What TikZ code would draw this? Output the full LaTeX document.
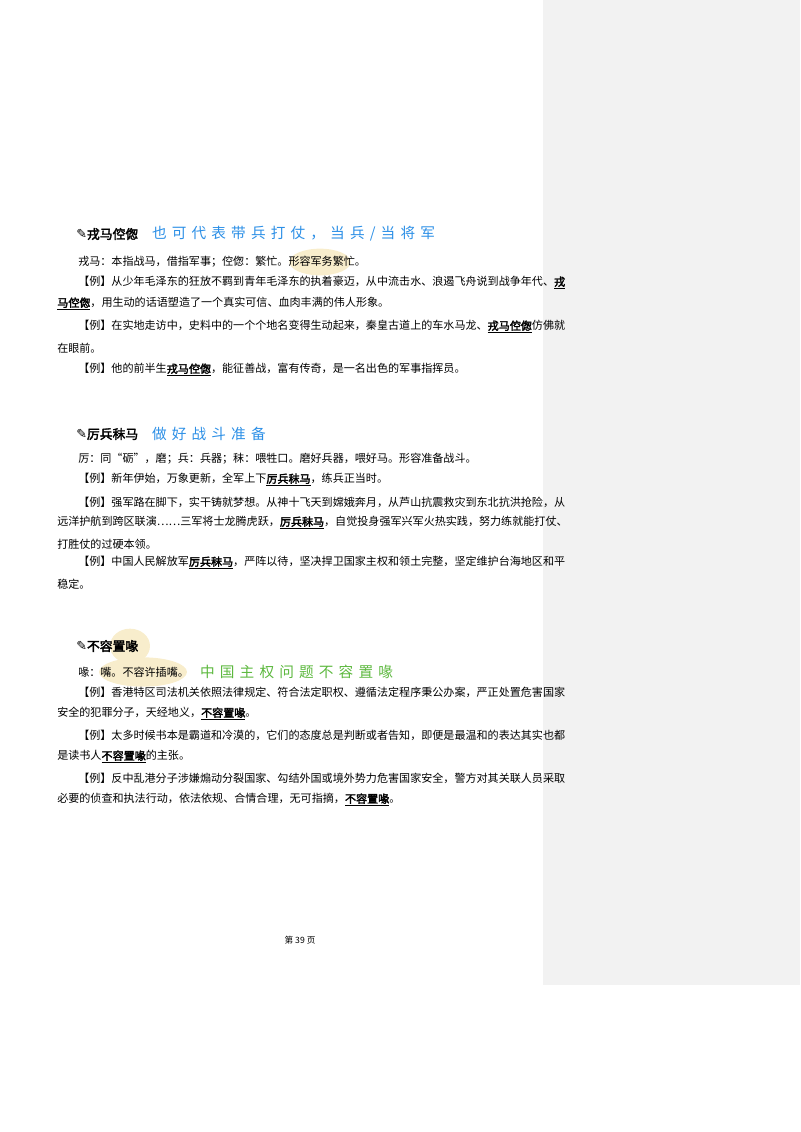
\documentclass[tikz,border=0pt]{standalone}
\usepackage{fontspec}
\setmainfont{Noto Sans CJK SC}[AutoFakeBold=2.5]
\newfontfamily\pencilfont{DejaVu Sans}
\usetikzlibrary{shapes.geometric, positioning}
\definecolor{panelgray}{HTML}{F2F2F2}
\definecolor{hlyellow}{HTML}{F8EDCC}
\definecolor{noteblue}{HTML}{2C8FE6}
\definecolor{notegreen}{HTML}{5CB83E}
\tikzstyle{body} = [anchor=west, inner sep=0pt, font=\fontsize{8.3}{10}\selectfont]
\tikzstyle{head} = [anchor=west, inner sep=0pt, font=\fontsize{9.6}{12}\selectfont\bfseries]
\tikzstyle{note} = [anchor=west, inner sep=0pt, font=\fontsize{11}{13}\selectfont\addfontfeatures{LetterSpace=35}]
\tikzstyle{hl} = [ellipse, fill=hlyellow, draw=none, inner sep=0pt]
\newcommand{\term}[1]{\underline{\textbf{#1}}}
\newcommand{\pen}{{\pencilfont ✎}}

\begin{document}
\begin{tikzpicture}[x=0.75pt, y=-0.75pt]
\useasboundingbox (0,0) rectangle (800,1132);
\fill[panelgray] (543,0) rectangle (800,985);

% highlights
\node (hla) [hl, minimum width=46, minimum height=20] at (320,262) {};
\node (hlb) [hl, minimum width=30, minimum height=26] at (130,646) {};
\node (hlc) [hl, minimum width=66, minimum height=22] at (143,672) {};

% first entry
\node (h1) [head] at (76,234) {\pen 戎马倥偬};
\node (n1) [note, text=noteblue, right=10pt of h1] {也可代表带兵打仗，当兵/当将军};
\node (d1) [body] at (78,262) {戎马：本指战马，借指军事；倥偬：繁忙。形容军务繁忙。};
\node (e1a) [body] at (78,283) {【例】从少年毛泽东的狂放不羁到青年毛泽东的执着豪迈，从中流击水、浪遏飞舟说到战争年代、\term{戎}};
\node (e1b) [body] at (57,304) {\term{马倥偬}，用生动的话语塑造了一个真实可信、血肉丰满的伟人形象。};
\node (e2a) [body] at (78,327) {【例】在实地走访中，史料中的一个个地名变得生动起来，秦皇古道上的车水马龙、\term{戎马倥偬}仿佛就};
\node (e2b) [body] at (57,348) {在眼前。};
\node (e3a) [body] at (78,370) {【例】他的前半生\term{戎马倥偬}，能征善战，富有传奇，是一名出色的军事指挥员。};

% second entry
\node (h2) [head] at (76,434) {\pen 厉兵秣马};
\node (n2) [note, text=noteblue, right=10pt of h2] {做好战斗准备};
\node (d2) [body] at (78,459) {厉：同“砺”，磨；兵：兵器；秣：喂牲口。磨好兵器，喂好马。形容准备战斗。};
\node (e4a) [body] at (78,480) {【例】新年伊始，万象更新，全军上下\term{厉兵秣马}，练兵正当时。};
\node (e5a) [body] at (78,502) {【例】强军路在脚下，实干铸就梦想。从神十飞天到嫦娥奔月，从芦山抗震救灾到东北抗洪抢险，从};
\node (e5b) [body] at (57,523) {远洋护航到跨区联演……三军将士龙腾虎跃，\term{厉兵秣马}，自觉投身强军兴军火热实践，努力练就能打仗、};
\node (e5c) [body] at (57,544) {打胜仗的过硬本领。};
\node (e6a) [body] at (78,563) {【例】中国人民解放军\term{厉兵秣马}，严阵以待，坚决捍卫国家主权和领土完整，坚定维护台海地区和平};
\node (e6b) [body] at (57,584) {稳定。};

% third entry
\node (h3) [head] at (76,646) {\pen 不容置喙};
\node (d3) [body] at (78,672) {喙：嘴。不容许插嘴。};
\node (n3) [note, text=notegreen, right=8pt of d3] {中国主权问题不容置喙};
\node (e7a) [body] at (78,692) {【例】香港特区司法机关依照法律规定、符合法定职权、遵循法定程序秉公办案，严正处置危害国家};
\node (e7b) [body] at (57,714) {安全的犯罪分子，天经地义，\term{不容置喙}。};
\node (e8a) [body] at (78,735) {【例】太多时候书本是霸道和冷漠的，它们的态度总是判断或者告知，即便是最温和的表达其实也都};
\node (e8b) [body] at (57,757) {是读书人\term{不容置喙}的主张。};
\node (e9a) [body] at (78,778) {【例】反中乱港分子涉嫌煽动分裂国家、勾结外国或境外势力危害国家安全，警方对其关联人员采取};
\node (e9b) [body] at (57,800) {必要的侦查和执法行动，依法依规、合情合理，无可指摘，\term{不容置喙}。};

% footer
\node (foot) [inner sep=0pt, font=\fontsize{6.5}{8}\selectfont] at (300,940) {第 39 页};
\end{tikzpicture}
\end{document}
